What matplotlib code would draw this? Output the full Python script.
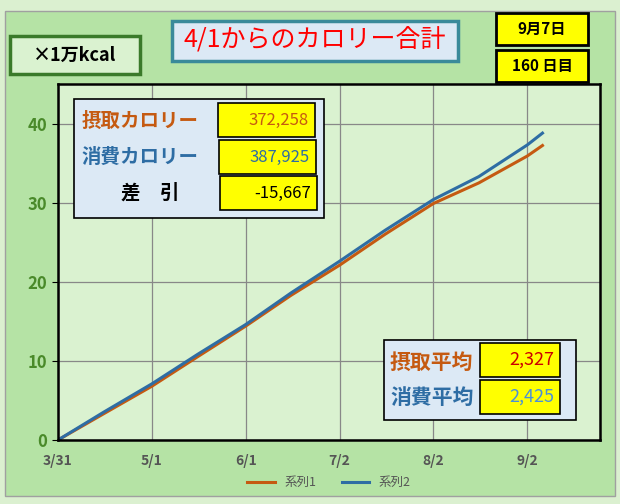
import matplotlib.pyplot as plt
from matplotlib.patches import Rectangle

plt.rcParams['font.family'] = ['Noto Sans CJK JP']

# days since 3/31 and cumulative kcal (x10,000)
days = [0, 15, 31, 46, 62, 77, 93, 108, 124, 139, 155, 160]
intake = [0, 3.3, 6.8, 10.5, 14.4, 18.3, 22.1, 26.0, 29.9, 32.5, 35.9, 37.2258]
burn = [0, 3.5, 7.1, 10.8, 14.6, 18.6, 22.6, 26.5, 30.4, 33.3, 37.3, 38.7925]
tick_days = [0, 31, 62, 93, 124, 155]
tick_labels = ['3/31', '5/1', '6/1', '7/2', '8/2', '9/2']

fig = plt.figure(figsize=(6.2, 5.04), dpi=100)
fig.patch.set_facecolor('#dbf0d0')
fig.patches.append(Rectangle((5/620, 8/504), 610/620, 485/504, transform=fig.transFigure,
                             facecolor='#b5e3a5', edgecolor='#a0a0a0', lw=1, zorder=-10))

ax = fig.add_axes([58/620, 64/504, 542/620, 356/504])
ax.set_facecolor('#daf2d0')
ax.plot(days, intake, color='#c55a11', lw=2.2, label='系列1')
ax.plot(days, burn, color='#2e6da4', lw=2.2, label='系列2')
ax.set_xlim(0, 179)
ax.set_ylim(0, 45)
ax.set_yticks([0, 10, 20, 30, 40])
ax.set_xticks(tick_days)
ax.set_xticklabels(tick_labels, fontsize=10, fontweight='bold', style='italic', color='#555555')
ax.tick_params(axis='y', labelsize=12, labelcolor='#4a8a2a', length=4)
for t in ax.get_yticklabels():
    t.set_fontweight('bold')
ax.tick_params(axis='x', length=0, pad=10)
ax.grid(color='#888888', lw=0.9)
for s in ax.spines.values():
    s.set_linewidth(1.8)
    s.set_color('black')
ax.legend(loc='upper center', bbox_to_anchor=(0.5, -0.07), ncol=2, frameon=False,
          fontsize=9, handlelength=2.2, labelcolor='#555555')

def box(x, y, w, h, text, color, fc='yellow', ec='black', fs=12, ha='right', lw=1.2, weight='normal'):
    fig.patches.append(Rectangle((x/620, 1-(y+h)/504), w/620, h/504, transform=fig.transFigure,
                                 facecolor=fc, edgecolor=ec, lw=lw, zorder=5))
    tx = (x + w - 6)/620 if ha == 'right' else (x + w/2)/620
    fig.text(tx, 1-(y+h/2)/504, text, color=color, fontsize=fs, ha=ha, va='center',
             fontweight=weight, zorder=6)

box(10, 36, 130, 38, '×1万kcal', 'black', fc='#daf2d0', ec='#3a7a2a', lw=2.5, ha='center', fs=13, weight='bold')
box(172, 21, 286, 40, '4/1からのカロリー合計', 'red', fc='#dce9f5', ec='#3a8a9a', lw=2.5, ha='center', fs=18)
box(496, 13, 92, 32, '9月7日', 'black', lw=2, ha='center', fs=11, weight='bold')
box(496, 50, 92, 32, '160 日目', 'black', lw=2, ha='center', fs=11, weight='bold')

box(74, 99, 250, 119, '', 'black', fc='#dce9f5', lw=1.2)
fig.text(82/620, 1-121/504, '摂取カロリー', color='#c55a11', fontsize=14, fontweight='bold', va='center', zorder=7)
fig.text(82/620, 1-157/504, '消費カロリー', color='#2e6da4', fontsize=14, fontweight='bold', va='center', zorder=7)
fig.text(150/620, 1-193/504, '差　引', color='black', fontsize=14, fontweight='bold', va='center', ha='center', zorder=7)
box(218, 103, 97, 34, '372,258', '#c55a11', fs=12)
box(219, 140, 97, 34, '387,925', '#2e6da4', fs=12)
box(220, 176, 97, 34, '-15,667', 'black', fs=12)

box(384, 340, 192, 80, '', 'black', fc='#dce9f5', lw=1.2)
fig.text(390/620, 1-362/504, '摂取平均', color='#c55a11', fontsize=15, fontweight='bold', va='center', zorder=7)
fig.text(390/620, 1-397/504, '消費平均', color='#2e6da4', fontsize=15, fontweight='bold', va='center', zorder=7)
box(480, 343, 80, 34, '2,327', '#cc0000', fs=13)
box(480, 380, 80, 34, '2,425', '#4a90d9', fs=13)

fig.savefig('out.png', dpi=100, facecolor=fig.get_facecolor())
